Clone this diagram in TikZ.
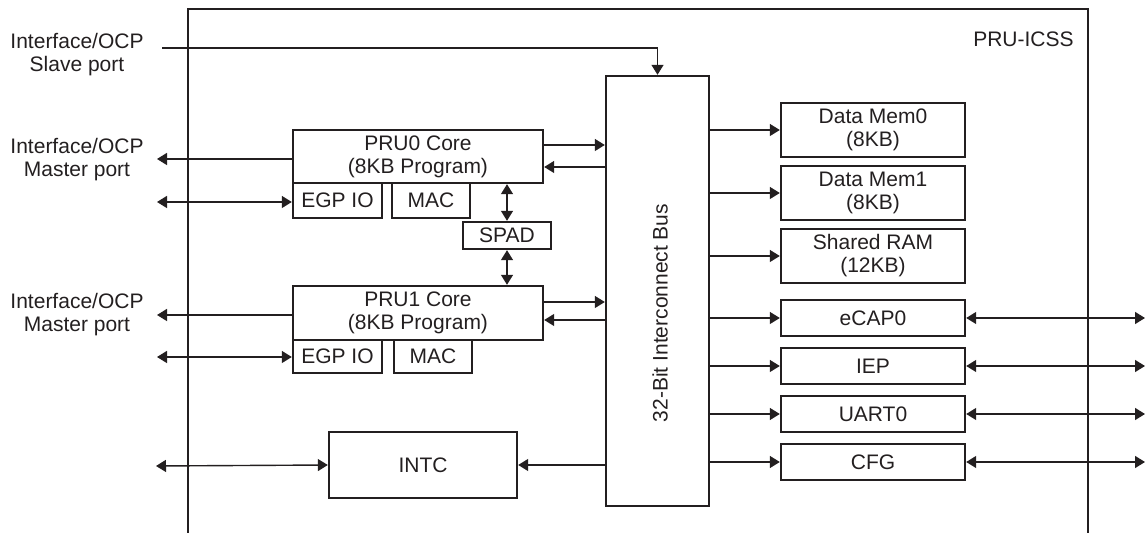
\documentclass[tikz,border=0pt]{standalone}
\usepackage{fontspec}
\setmainfont{Liberation Sans}
\usetikzlibrary{arrows.meta}
\definecolor{ink}{HTML}{231F20}
\begin{document}
\begin{tikzpicture}[x=0.5pt,y=-0.5pt,
  font=\fontsize{10.5}{11.5}\selectfont,
  every node/.style={text=ink},
  bx/.style 2 args={draw=ink, line width=1.2pt, inner sep=0pt, align=center,
     minimum width=#1*0.5pt, minimum height=#2*0.5pt},
  conn/.style={draw=ink, line width=0.7pt},
  arr/.style={conn, -{Triangle[length=5pt,width=6pt]}},
  darr/.style={conn, {Triangle[length=5pt,width=6pt]}-{Triangle[length=5pt,width=6pt]}},
  lbl/.style={align=center, inner sep=0pt}]
\useasboundingbox (0,0) rectangle (1146,533);

% outer PRU-ICSS frame
\draw[ink, line width=1.4pt] (188,533) -- (188,9) -- (1088,9) -- (1088,533);
\node[anchor=base east, inner sep=0pt] (title) at (1074,47) {PRU-ICSS};

% blocks
\node[bx={250}{53}] (pru0) at (418,156.5) {PRU0 Core\\(8KB Program)};
\node[bx={89}{35}] (egp0) at (337.5,200.5) {\raisebox{-2pt}{EGP IO}};
\node[bx={78}{35}] (mac0) at (431,200.5) {MAC};
\node[bx={88}{27}] (spad) at (507,235.5) {SPAD};
\node[bx={250}{54}] (pru1) at (418,313) {PRU1 Core\\(8KB Program)};
\node[bx={89}{33}] (egp1) at (337.5,356.5) {\raisebox{-2pt}{EGP IO}};
\node[bx={78}{33}] (mac1) at (433,356.5) {MAC};
\node[bx={188}{66}] (intc) at (423,465) {INTC};
\node[bx={103}{430}] (bus) at (657.5,291) {};
\node[rotate=90, inner sep=0pt] (bustxt) at (660,313) {32-Bit Interconnect Bus};

\node[bx={184}{54}] (dm0) at (873,130) {Data Mem0\\(8KB)};
\node[bx={184}{54}] (dm1) at (873,193) {Data Mem1\\(8KB)};
\node[bx={184}{54}] (sram) at (873,256) {Shared RAM\\(12KB)};
\node[bx={184}{36}] (ecap) at (873,318) {eCAP0};
\node[bx={184}{36}] (iep) at (873,366) {IEP};
\node[bx={184}{36}] (uart) at (873,414) {UART0};
\node[bx={184}{36}] (cfg) at (873,462) {CFG};

% left labels
\node[lbl] (slavelbl) at (77,55) {Interface/OCP\\Slave port};
\node[lbl] (m0lbl) at (77,160) {Interface/OCP\\Master port};
\node[lbl] (m1lbl) at (77,315) {Interface/OCP\\Master port};

% free ends
\coordinate (slave) at (162,48);
\coordinate (m0) at (157,159);
\coordinate (e0) at (157,202);
\coordinate (m1) at (157,315);
\coordinate (e1) at (157,357);
\coordinate (ie) at (156,466);
\coordinate (rx) at (1145,0);

% slave port into bus
\draw[arr] (slave) -| (bus.north);

% PRU0
\draw[arr] (pru0.west |- m0) -- (m0);
\draw[darr] (e0) -- (egp0.west |- e0);
\draw[arr] (pru0.east |- 0,145) -- (bus.west |- 0,145);
\draw[arr] (bus.west |- 0,167) -- (pru0.east |- 0,167);

% SPAD
\draw[darr] (spad.north |- pru0.south) -- (spad.north);
\draw[darr] (spad.south) -- (spad.south |- pru1.north);

% PRU1
\draw[arr] (pru1.west |- m1) -- (m1);
\draw[darr] (e1) -- (egp1.west |- e1);
\draw[arr] (pru1.east |- 0,302) -- (bus.west |- 0,302);
\draw[arr] (bus.west |- 0,320) -- (pru1.east |- 0,320);

% INTC
\draw[darr] (ie) -- (intc.west);
\draw[arr] (bus.west |- intc.east) -- (intc.east);

% right side memories and peripherals
\foreach \n in {dm0,dm1,sram,ecap,iep,uart,cfg}
  \draw[arr] (bus.east |- \n.west) -- (\n.west);
\foreach \n in {ecap,iep,uart,cfg}
  \draw[darr] (\n.east) -- (rx |- \n.east);
\end{tikzpicture}
\end{document}
